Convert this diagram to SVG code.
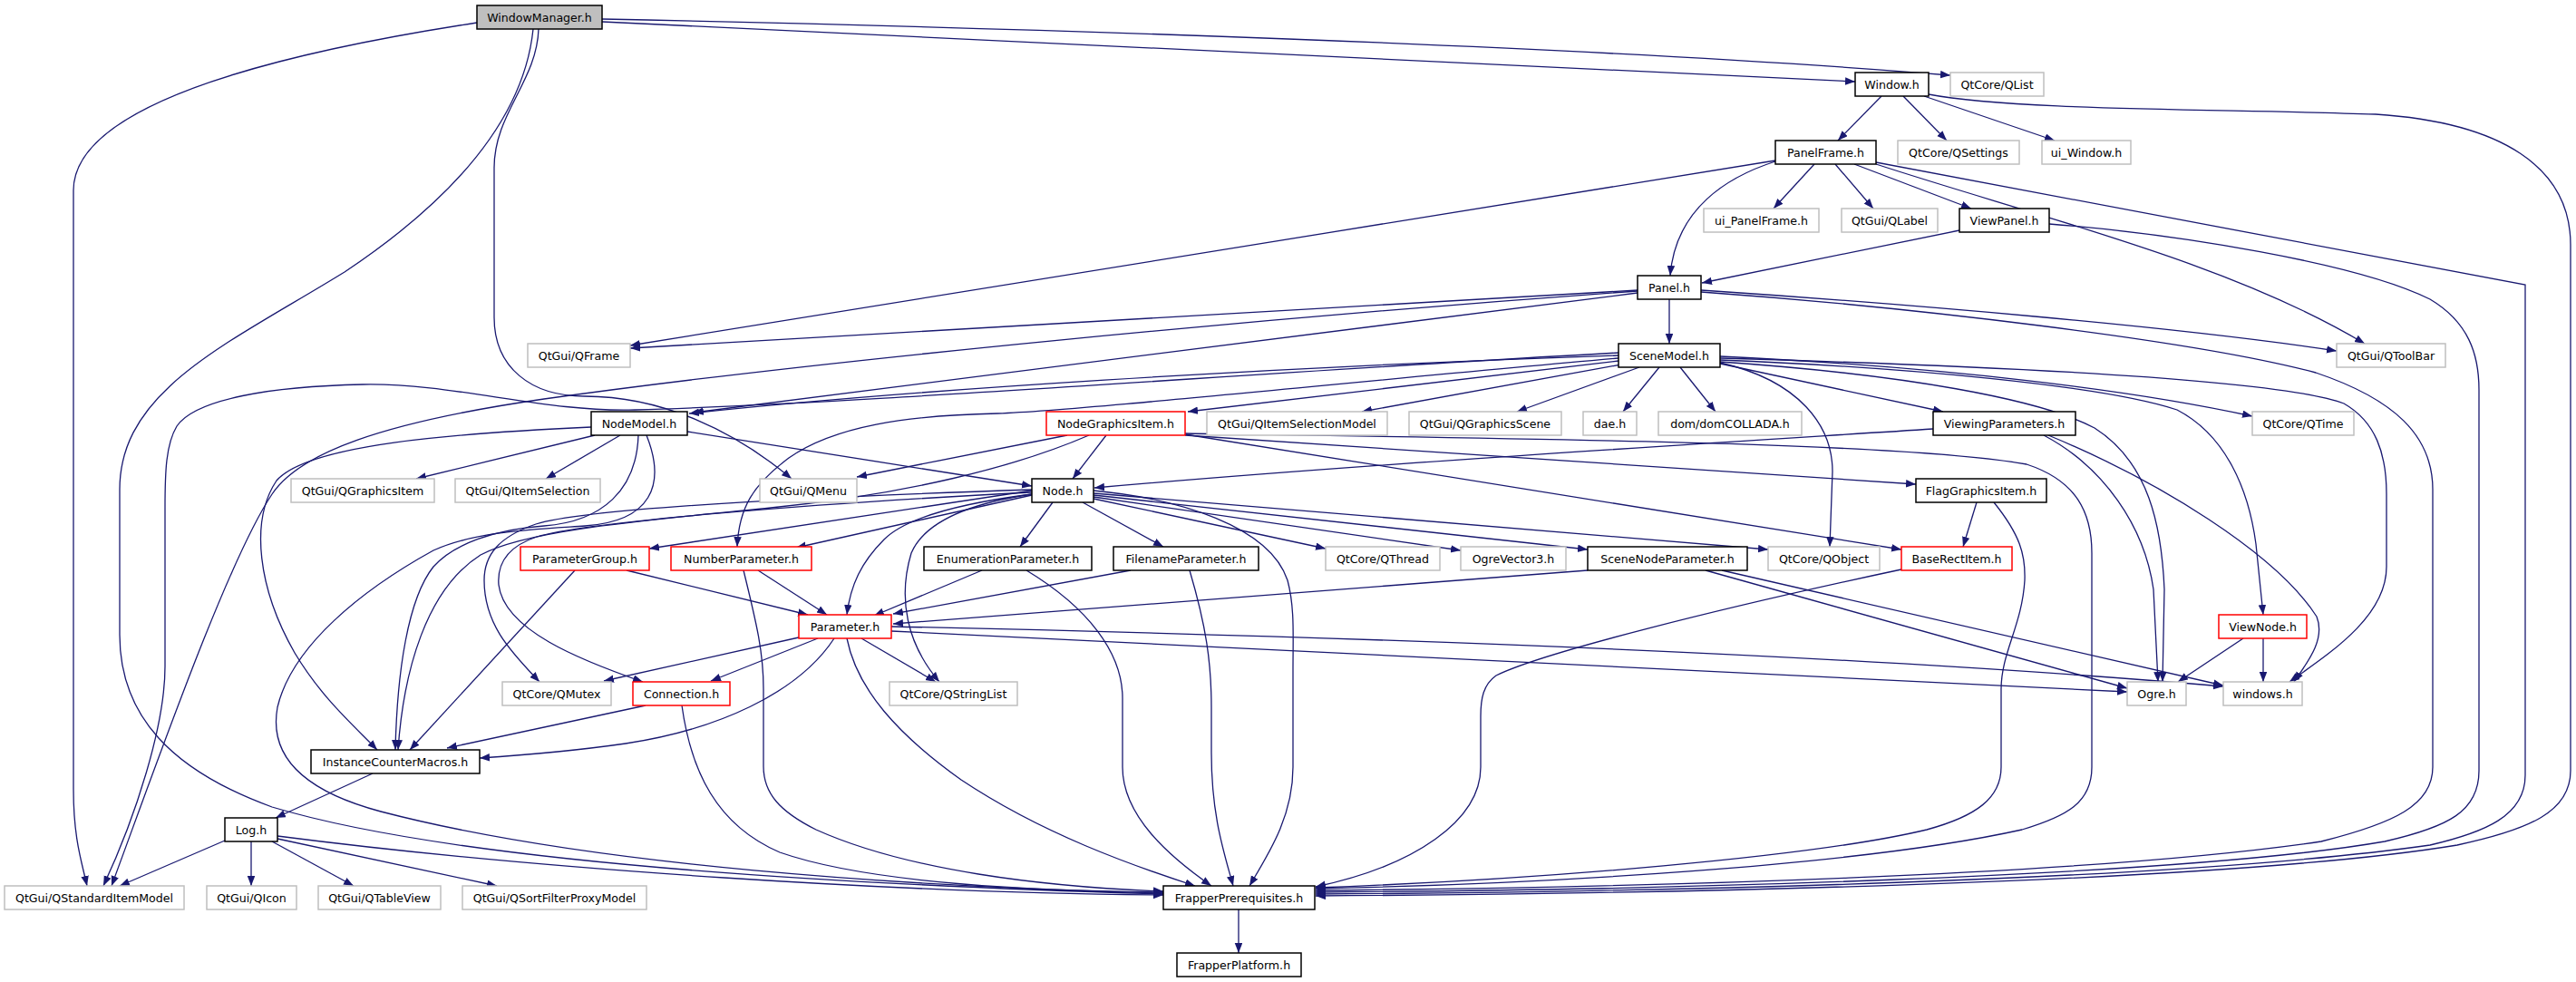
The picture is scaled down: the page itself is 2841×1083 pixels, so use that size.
<svg xmlns="http://www.w3.org/2000/svg" width="2841" height="1083" viewBox="0 0 2841 1083">
<style>
rect{stroke-width:1.5}
.b rect{fill:#fff;stroke:#000}
.g rect{fill:#fff;stroke:#bfbfbf}
.r rect{fill:#fff;stroke:#ff0000}
.w rect{fill:#bfbfbf;stroke:#000}
text{font-family:"DejaVu Sans",sans-serif;font-size:12.6px;text-anchor:middle;fill:#000}
#edges path{fill:none;stroke:#191970;stroke-width:1.3;marker-end:url(#a)}
</style>
<defs>
<marker id="a" markerWidth="12" markerHeight="10" refX="11" refY="4.25" orient="auto" markerUnits="userSpaceOnUse"><path d="M0,0 L11,4.25 L0,8.5 z" fill="#191970"/></marker>
</defs>
<rect width="2841" height="1083" fill="#fff"/>
<g id="edges">
<path d="M664,21 C1100,30 1750,50 2151,83"/>
<path d="M664,24 L2046,90"/>
<path d="M526,25 C330,55 81,110 81,210 L81,870 C81,925 90,950 96,977"/>
<path d="M594,32 C592,90 545,125 545,185 L545,350 C545,405 585,437 645,437 C730,437 810,475 873,528"/>
<path d="M588,32 C578,130 500,220 380,300 C250,380 132,430 132,540 L132,700 C132,790 190,850 300,890 C500,950 900,975 1283,986"/>
<path d="M2075,106 L2027,155"/>
<path d="M2099,106 L2147,155"/>
<path d="M2122,106 L2266,155"/>
<path d="M2127,104 C2220,122 2450,120 2620,126 C2760,135 2835,185 2835,270 L2835,850 C2835,895 2790,915 2710,932 C2450,975 1800,986 1451,988"/>
<path d="M2001,181 L1956,230"/>
<path d="M2024,181 L2066,230"/>
<path d="M2045,181 L2174,230"/>
<path d="M1958,178 C1905,195 1848,230 1842,304"/>
<path d="M1958,177 L695,381"/>
<path d="M2069,181 C2250,240 2460,290 2608,379"/>
<path d="M2069,179 L2785,314 L2785,855 C2785,900 2740,918 2680,932 C2400,972 1800,984 1451,986"/>
<path d="M2161,254 L1877,312"/>
<path d="M2260,247 C2400,258 2600,290 2680,330 C2722,355 2734,390 2734,430 L2734,850 C2734,895 2700,912 2630,928 C2400,968 1800,982 1451,984"/>
<path d="M1841,330 L1841,379"/>
<path d="M1806,320 L695,384"/>
<path d="M1876,320 C2100,335 2400,360 2577,387"/>
<path d="M1876,322 C2100,338 2420,375 2554,411 C2640,440 2683,480 2683,540 L2683,846 C2683,888 2640,908 2560,928 C2300,966 1800,979 1451,982"/>
<path d="M1806,321 C1400,350 900,398 600,440 C420,466 330,500 300,545 C250,620 170,850 123,977"/>
<path d="M1806,323 C1450,365 1100,410 765,455"/>
<path d="M1785,392 C1400,405 1000,430 760,456"/>
<path d="M1785,389 C1400,410 950,445 700,452 C600,455 500,422 400,424 C300,426 215,440 195,470 C183,490 182,520 182,560 L182,735 C182,800 150,900 114,977"/>
<path d="M1785,395 C1500,420 1200,452 1100,456 C1000,458 920,470 870,505 C830,535 815,560 813,603"/>
<path d="M1785,398 L1310,454"/>
<path d="M1788,402 L1502,454"/>
<path d="M1808,405 L1673,454"/>
<path d="M1830,405 L1790,454"/>
<path d="M1853,405 L1892,454"/>
<path d="M1897,401 L2143,454"/>
<path d="M1897,393 C2150,405 2350,430 2484,459"/>
<path d="M1897,395 C2250,405 2520,420 2585,445 C2620,465 2632,500 2632,545 L2632,625 C2632,680 2570,720 2525,752"/>
<path d="M1897,397 C2100,405 2320,425 2401,452 C2455,480 2480,540 2488,600 L2496,678"/>
<path d="M1897,399 C2100,413 2250,440 2310,472 C2370,510 2384,580 2387,650 L2385,752"/>
<path d="M1897,400 C1985,420 2021,470 2021,520 L2018,603"/>
<path d="M684,480 L602,528"/>
<path d="M656,480 L459,528"/>
<path d="M758,476 L1138,536"/>
<path d="M652,471 C500,478 340,490 305,530 C275,575 285,650 325,720 C355,770 390,800 416,827"/>
<path d="M704,480 C702,540 665,575 600,580 C545,584 500,600 478,625 C450,660 438,740 436,827"/>
<path d="M713,480 C735,535 718,575 645,580 C585,584 525,586 478,607 C400,650 322,712 306,780 C295,840 345,875 420,895 C650,955 1000,978 1283,985"/>
<path d="M1220,480 L1183,528"/>
<path d="M1177,480 L945,526"/>
<path d="M1201,480 C1120,515 1000,545 850,560 C700,575 580,585 530,612 C470,650 445,740 439,827"/>
<path d="M1307,480 L2113,534"/>
<path d="M1307,479 L2097,606"/>
<path d="M1307,478 C1700,484 2100,488 2235,512 C2290,530 2307,565 2307,610 L2307,846 C2307,885 2280,900 2230,915 C2050,955 1700,975 1451,980"/>
<path d="M2132,473 C1900,488 1500,512 1207,538"/>
<path d="M2254,480 C2320,515 2365,580 2375,650 L2380,752"/>
<path d="M2259,480 C2380,530 2510,610 2555,680 C2565,705 2545,730 2530,752"/>
<path d="M2474,704 L2402,752"/>
<path d="M2496,704 L2496,752"/>
<path d="M2180,554 L2165,603"/>
<path d="M2199,554 C2228,590 2234,612 2233,640 C2230,690 2207,720 2207,760 L2207,846 C2207,880 2180,900 2125,915 C2000,945 1700,970 1451,979"/>
<path d="M2097,628 C1900,670 1700,720 1650,745 C1636,755 1633,770 1633,790 L1633,846 C1633,905 1560,955 1451,978"/>
<path d="M1751,629 L985,688"/>
<path d="M1881,629 L2346,759"/>
<path d="M1899,629 L2452,756"/>
<path d="M881,703 L666,751"/>
<path d="M902,704 L784,751"/>
<path d="M920,704 C880,765 790,805 690,820 C620,830 560,834 529,836"/>
<path d="M950,704 L1032,752"/>
<path d="M934,704 C945,760 990,810 1060,860 C1150,920 1250,955 1318,977"/>
<path d="M983,691 C1400,700 2000,718 2452,757"/>
<path d="M983,696 L2346,763"/>
<path d="M1138,541 L716,605"/>
<path d="M1138,546 L878,604"/>
<path d="M1138,545 C1060,555 1000,570 975,595 C950,620 938,645 934,678"/>
<path d="M1138,540 C900,548 650,560 591,578 C550,592 534,612 534,640 C534,690 565,720 595,752"/>
<path d="M1138,543 C900,555 650,575 592,592 C562,602 548,620 550,645 C556,695 640,728 709,752"/>
<path d="M1138,545 C1070,555 1020,575 1005,610 C990,660 1000,710 1036,752"/>
<path d="M1161,554 L1125,603"/>
<path d="M1194,554 L1283,603"/>
<path d="M1206,550 L1462,605"/>
<path d="M1206,548 L1611,607"/>
<path d="M1206,546 L1751,606"/>
<path d="M1206,544 L1950,606"/>
<path d="M1206,541 C1300,550 1400,580 1420,640 C1428,670 1426,700 1426,740 L1426,846 C1426,900 1400,940 1378,977"/>
<path d="M691,629 L891,678"/>
<path d="M634,629 L452,827"/>
<path d="M836,629 L912,678"/>
<path d="M820,629 C835,690 842,720 842,760 L842,845 C842,875 860,895 900,915 C1000,960 1150,978 1283,983"/>
<path d="M1083,629 L964,679"/>
<path d="M1132,629 C1200,670 1238,720 1238,770 L1238,846 C1238,900 1290,945 1336,977"/>
<path d="M1247,629 L985,677"/>
<path d="M1312,629 C1330,690 1336,730 1336,780 L1336,830 C1336,900 1350,940 1360,977"/>
<path d="M712,778 L493,825"/>
<path d="M752,778 C762,850 790,910 860,940 C960,975 1150,983 1283,984"/>
<path d="M411,853 L304,902"/>
<path d="M248,927 L132,977"/>
<path d="M277,928 L277,977"/>
<path d="M300,928 L390,977"/>
<path d="M306,925 L548,977"/>
<path d="M306,922 C600,960 1000,985 1283,987"/>
<path d="M1366,1003 L1366,1051"/>
</g>
<g id="n_wm" class="w"><rect x="526" y="6" width="138" height="26"/><text x="595" y="23.5">WindowManager.h</text></g>
<g id="n_window" class="b"><rect x="2046" y="80" width="81" height="26"/><text x="2086.5" y="97.5">Window.h</text></g>
<g id="n_qlist" class="g"><rect x="2151" y="80" width="103" height="26"/><text x="2202.5" y="97.5">QtCore/QList</text></g>
<g id="n_panelframe" class="b"><rect x="1958" y="155" width="111" height="26"/><text x="2013.5" y="172.5">PanelFrame.h</text></g>
<g id="n_qsettings" class="g"><rect x="2093" y="155" width="134" height="26"/><text x="2160" y="172.5">QtCore/QSettings</text></g>
<g id="n_uiwindow" class="g"><rect x="2252" y="155" width="98" height="26"/><text x="2301" y="172.5">ui_Window.h</text></g>
<g id="n_uipanelframe" class="g"><rect x="1879" y="230" width="127" height="26"/><text x="1942.5" y="247.5">ui_PanelFrame.h</text></g>
<g id="n_qlabel" class="g"><rect x="2031" y="230" width="106" height="26"/><text x="2084" y="247.5">QtGui/QLabel</text></g>
<g id="n_viewpanel" class="b"><rect x="2161" y="230" width="99" height="26"/><text x="2210.5" y="247.5">ViewPanel.h</text></g>
<g id="n_panel" class="b"><rect x="1806" y="304" width="70" height="26"/><text x="1841" y="321.5">Panel.h</text></g>
<g id="n_qframe" class="g"><rect x="582" y="379" width="113" height="26"/><text x="638.5" y="396.5">QtGui/QFrame</text></g>
<g id="n_scenemodel" class="b"><rect x="1785" y="379" width="112" height="26"/><text x="1841" y="396.5">SceneModel.h</text></g>
<g id="n_qtoolbar" class="g"><rect x="2577" y="379" width="120" height="26"/><text x="2637" y="396.5">QtGui/QToolBar</text></g>
<g id="n_nodemodel" class="b"><rect x="652" y="454" width="106" height="26"/><text x="705" y="471.5">NodeModel.h</text></g>
<g id="n_ngi" class="r"><rect x="1154" y="454" width="153" height="26"/><text x="1230.5" y="471.5">NodeGraphicsItem.h</text></g>
<g id="n_qism" class="g"><rect x="1331" y="454" width="199" height="26"/><text x="1430.5" y="471.5">QtGui/QItemSelectionModel</text></g>
<g id="n_qgs" class="g"><rect x="1554" y="454" width="168" height="26"/><text x="1638" y="471.5">QtGui/QGraphicsScene</text></g>
<g id="n_dae" class="g"><rect x="1746" y="454" width="59" height="26"/><text x="1775.5" y="471.5">dae.h</text></g>
<g id="n_dom" class="g"><rect x="1829" y="454" width="158" height="26"/><text x="1908" y="471.5">dom/domCOLLADA.h</text></g>
<g id="n_viewingparams" class="b"><rect x="2132" y="454" width="157" height="26"/><text x="2210.5" y="471.5">ViewingParameters.h</text></g>
<g id="n_qtime" class="g"><rect x="2484" y="454" width="112" height="26"/><text x="2540" y="471.5">QtCore/QTime</text></g>
<g id="n_qgi" class="g"><rect x="321" y="528" width="158" height="26"/><text x="400" y="545.5">QtGui/QGraphicsItem</text></g>
<g id="n_qis" class="g"><rect x="502" y="528" width="160" height="26"/><text x="582" y="545.5">QtGui/QItemSelection</text></g>
<g id="n_qmenu" class="g"><rect x="838" y="528" width="107" height="26"/><text x="891.5" y="545.5">QtGui/QMenu</text></g>
<g id="n_node" class="b"><rect x="1138" y="528" width="68" height="26"/><text x="1172" y="545.5">Node.h</text></g>
<g id="n_fgi" class="b"><rect x="2113" y="528" width="144" height="26"/><text x="2185" y="545.5">FlagGraphicsItem.h</text></g>
<g id="n_pg" class="r"><rect x="574" y="603" width="142" height="26"/><text x="645" y="620.5">ParameterGroup.h</text></g>
<g id="n_np" class="r"><rect x="740" y="603" width="155" height="26"/><text x="817.5" y="620.5">NumberParameter.h</text></g>
<g id="n_ep" class="b"><rect x="1019" y="603" width="185" height="26"/><text x="1111.5" y="620.5">EnumerationParameter.h</text></g>
<g id="n_fp" class="b"><rect x="1228" y="603" width="160" height="26"/><text x="1308" y="620.5">FilenameParameter.h</text></g>
<g id="n_qthread" class="g"><rect x="1462" y="603" width="126" height="26"/><text x="1525" y="620.5">QtCore/QThread</text></g>
<g id="n_ov3" class="g"><rect x="1611" y="603" width="116" height="26"/><text x="1669" y="620.5">OgreVector3.h</text></g>
<g id="n_snp" class="b"><rect x="1751" y="603" width="176" height="26"/><text x="1839" y="620.5">SceneNodeParameter.h</text></g>
<g id="n_qobject" class="g"><rect x="1950" y="603" width="123" height="26"/><text x="2011.5" y="620.5">QtCore/QObject</text></g>
<g id="n_bri" class="r"><rect x="2097" y="603" width="122" height="26"/><text x="2158" y="620.5">BaseRectItem.h</text></g>
<g id="n_param" class="r"><rect x="881" y="678" width="102" height="26"/><text x="932" y="695.5">Parameter.h</text></g>
<g id="n_viewnode" class="r"><rect x="2447" y="678" width="97" height="26"/><text x="2495.5" y="695.5">ViewNode.h</text></g>
<g id="n_qmutex" class="g"><rect x="554" y="752" width="120" height="26"/><text x="614" y="769.5">QtCore/QMutex</text></g>
<g id="n_conn" class="r"><rect x="698" y="752" width="107" height="26"/><text x="751.5" y="769.5">Connection.h</text></g>
<g id="n_qsl" class="g"><rect x="981" y="752" width="141" height="26"/><text x="1051.5" y="769.5">QtCore/QStringList</text></g>
<g id="n_ogre" class="g"><rect x="2346" y="752" width="65" height="26"/><text x="2378.5" y="769.5">Ogre.h</text></g>
<g id="n_windows" class="g"><rect x="2452" y="752" width="87" height="26"/><text x="2495.5" y="769.5">windows.h</text></g>
<g id="n_icm" class="b"><rect x="343" y="827" width="186" height="26"/><text x="436" y="844.5">InstanceCounterMacros.h</text></g>
<g id="n_log" class="b"><rect x="248" y="902" width="58" height="26"/><text x="277" y="919.5">Log.h</text></g>
<g id="n_qsim" class="g"><rect x="5" y="977" width="198" height="26"/><text x="104" y="994.5">QtGui/QStandardItemModel</text></g>
<g id="n_qicon" class="g"><rect x="228" y="977" width="99" height="26"/><text x="277.5" y="994.5">QtGui/QIcon</text></g>
<g id="n_qtv" class="g"><rect x="351" y="977" width="135" height="26"/><text x="418.5" y="994.5">QtGui/QTableView</text></g>
<g id="n_qsfpm" class="g"><rect x="510" y="977" width="203" height="26"/><text x="611.5" y="994.5">QtGui/QSortFilterProxyModel</text></g>
<g id="n_fpre" class="b"><rect x="1283" y="977" width="167" height="26"/><text x="1366.5" y="994.5">FrapperPrerequisites.h</text></g>
<g id="n_fplat" class="b"><rect x="1298" y="1051" width="137" height="26"/><text x="1366.5" y="1068.5">FrapperPlatform.h</text></g>
</svg>
